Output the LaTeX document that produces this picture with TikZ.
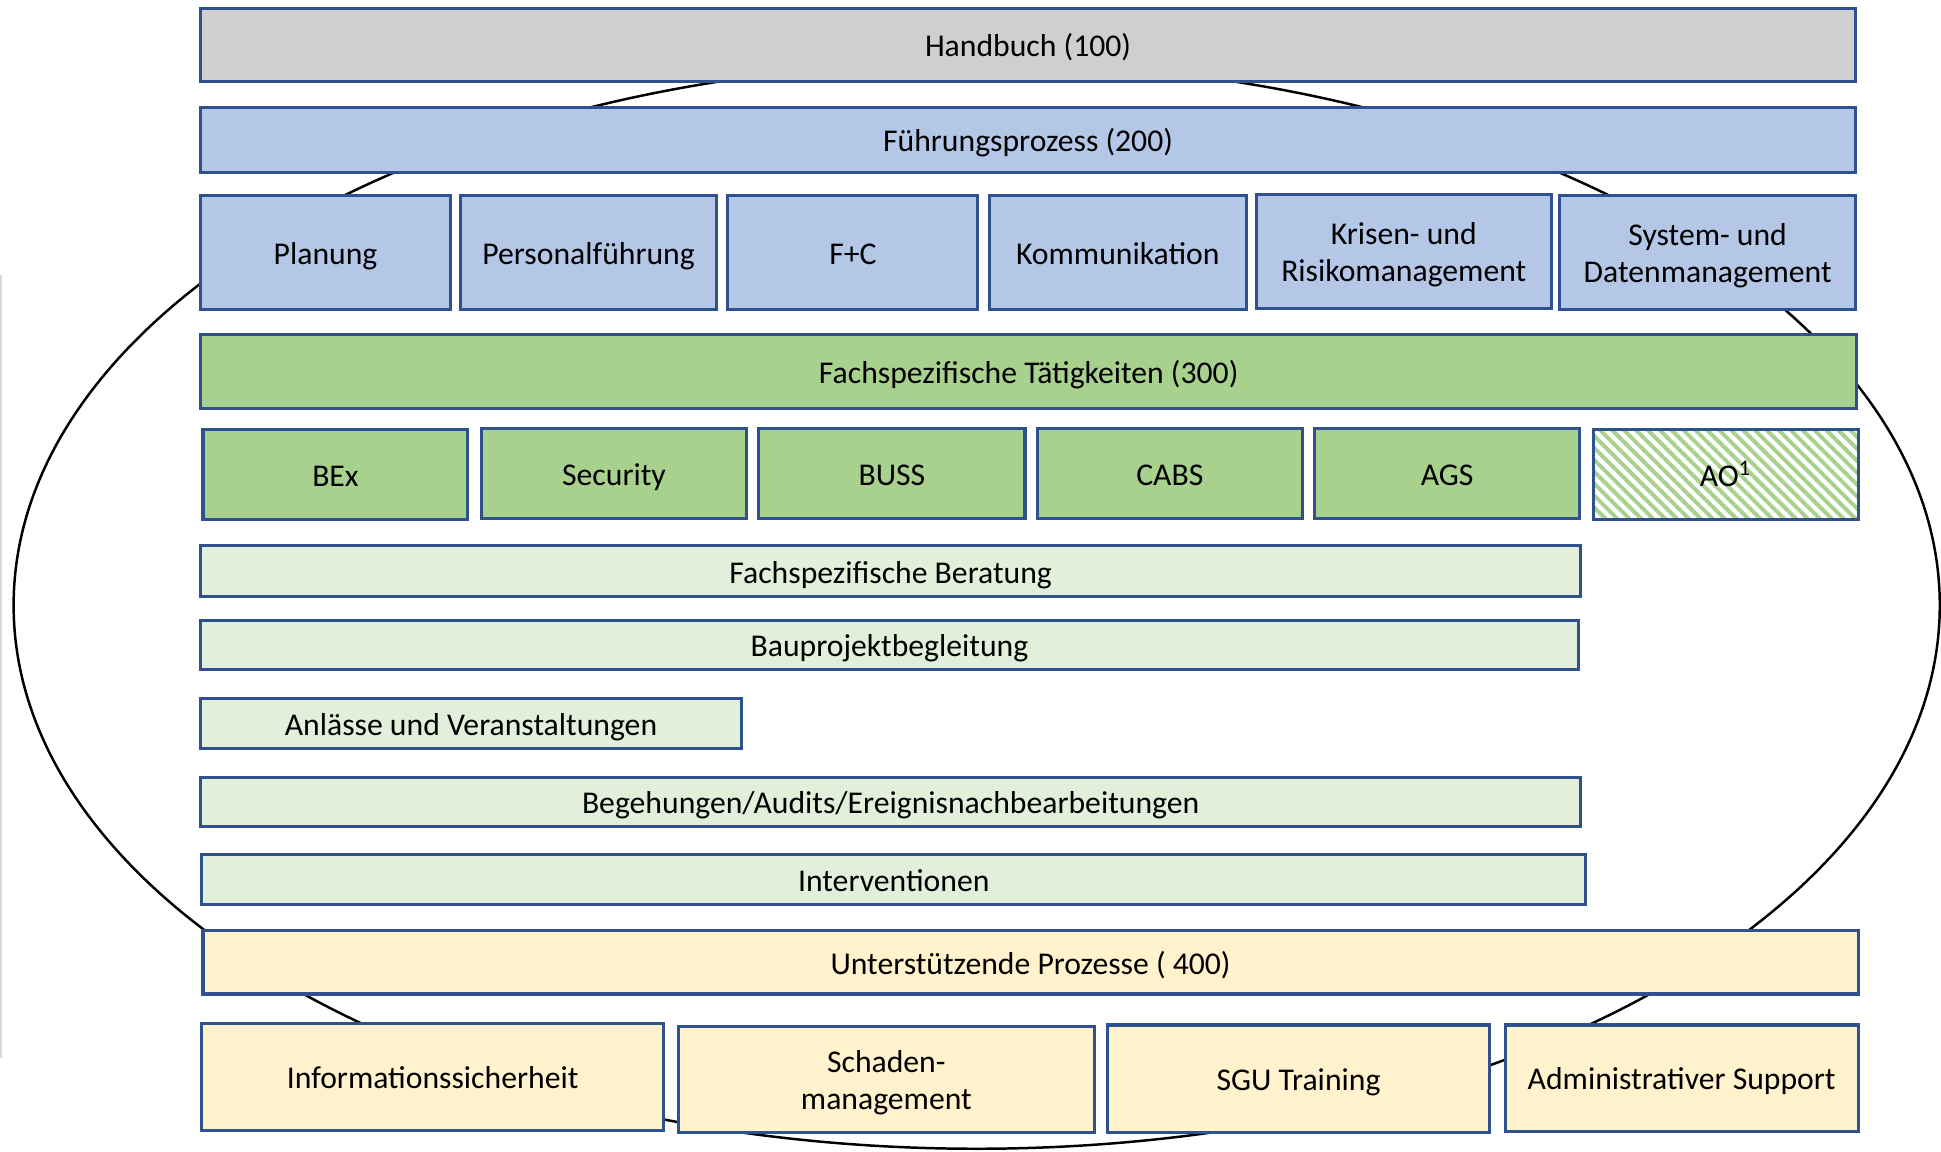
\documentclass[tikz,border=0pt]{standalone}
\usepackage{fontspec}
\setmainfont{Carlito}
\usetikzlibrary{patterns.meta}
\definecolor{bordc}{RGB}{47,82,143}
\definecolor{grayf}{HTML}{D0CECE}
\definecolor{bluef}{HTML}{B4C7E7}
\definecolor{greenf}{HTML}{A9D18E}
\definecolor{lgreenf}{HTML}{E2EFDA}
\definecolor{yellowf}{HTML}{FFF2CC}
\newcommand\bx[7]{\node[#6, minimum width={(#4-#2)*0.5pt}, minimum height={(#5-#3)*0.5pt}] (#1) at ({(#2+#4)/2},{(#3+#5)/2}) {\rule{0pt}{12.8pt}#7\rule[-3.3pt]{0pt}{0pt}};}
\begin{document}
\begin{tikzpicture}[x=0.5pt,y=-0.5pt,
  box/.style={draw=bordc, line width=1.25pt, inner sep=0pt, outer sep=0pt, align=center,
    font=\fontsize{12.8}{14.8}\selectfont, text=black},
  graybox/.style={box, fill=grayf},
  bluebox/.style={box, fill=bluef},
  greenbox/.style={box, fill=greenf},
  lgreenbox/.style={box, fill=lgreenf},
  yellowbox/.style={box, fill=yellowf},
  hatchbox/.style={box, preaction={fill=white},
    pattern={Lines[angle=-45, distance=3.4pt, line width=1.6pt]}, pattern color=greenf},
  ring/.style={draw=black, line width=1pt}]
\useasboundingbox (0,0) rectangle (1568,930);
% faint left line
\draw[draw=black!15, line width=0.6pt] (1,222) -- (1,855);
% ellipse behind
\draw[ring] (789,489) ellipse [x radius=389pt, y radius=219.5pt];
% top
\bx{hb}{162}{7}{1499}{66}{graybox}{Handbuch (100)}
\bx{fp}{162}{87}{1499}{139}{bluebox}{Führungsprozess (200)}
\bx{pl}{162}{158}{364}{250}{bluebox}{Planung}
\bx{pf}{372}{158}{579}{250}{bluebox}{Personalführung}
\bx{fc}{588}{158}{790}{250}{bluebox}{F+C}
\bx{ko}{799}{158}{1007}{250}{bluebox}{Kommunikation}
\bx{kr}{1015}{157}{1253}{249}{bluebox}{Krisen- und\\Risikomanagement}
\bx{sd}{1260}{158}{1499}{250}{bluebox}{System- und\\Datenmanagement}
% 300
\bx{ft}{162}{270}{1500}{330}{greenbox}{Fachspezifische Tätigkeiten (300)}
\bx{bex}{164}{347}{378}{420}{greenbox}{BEx}
\bx{sec}{389}{346}{603}{419}{greenbox}{Security}
\bx{buss}{613}{346}{828}{419}{greenbox}{BUSS}
\bx{cabs}{838}{346}{1052}{419}{greenbox}{CABS}
\bx{ags}{1062}{346}{1276}{419}{greenbox}{AGS}
\bx{ao}{1287}{347}{1501}{420}{hatchbox}{AO\textsuperscript{1}}
\bx{fb}{162}{441}{1277}{482}{lgreenbox}{Fachspezifische Beratung}
\bx{bp}{162}{501}{1275}{541}{lgreenbox}{Bauprojektbegleitung}
\bx{av}{162}{564}{599}{605}{lgreenbox}{Anlässe und Veranstaltungen}
\bx{ba}{162}{628}{1277}{668}{lgreenbox}{Begehungen/Audits/Ereignisnachbearbeitungen}
\bx{iv}{163}{690}{1281}{731}{lgreenbox}{Interventionen}
% 400
\bx{up}{164}{752}{1501}{803}{yellowbox}{Unterstützende Prozesse ( 400)}
\bx{is}{163}{827}{536}{913}{yellowbox}{Informationssicherheit}
\bx{sm}{548}{829}{884}{915}{yellowbox}{Schaden-\\management}
\bx{sgu}{895}{828}{1203}{915}{yellowbox}{SGU Training}
\bx{as}{1216}{828}{1501}{914}{yellowbox}{Administrativer Support}
\end{tikzpicture}
\end{document}
